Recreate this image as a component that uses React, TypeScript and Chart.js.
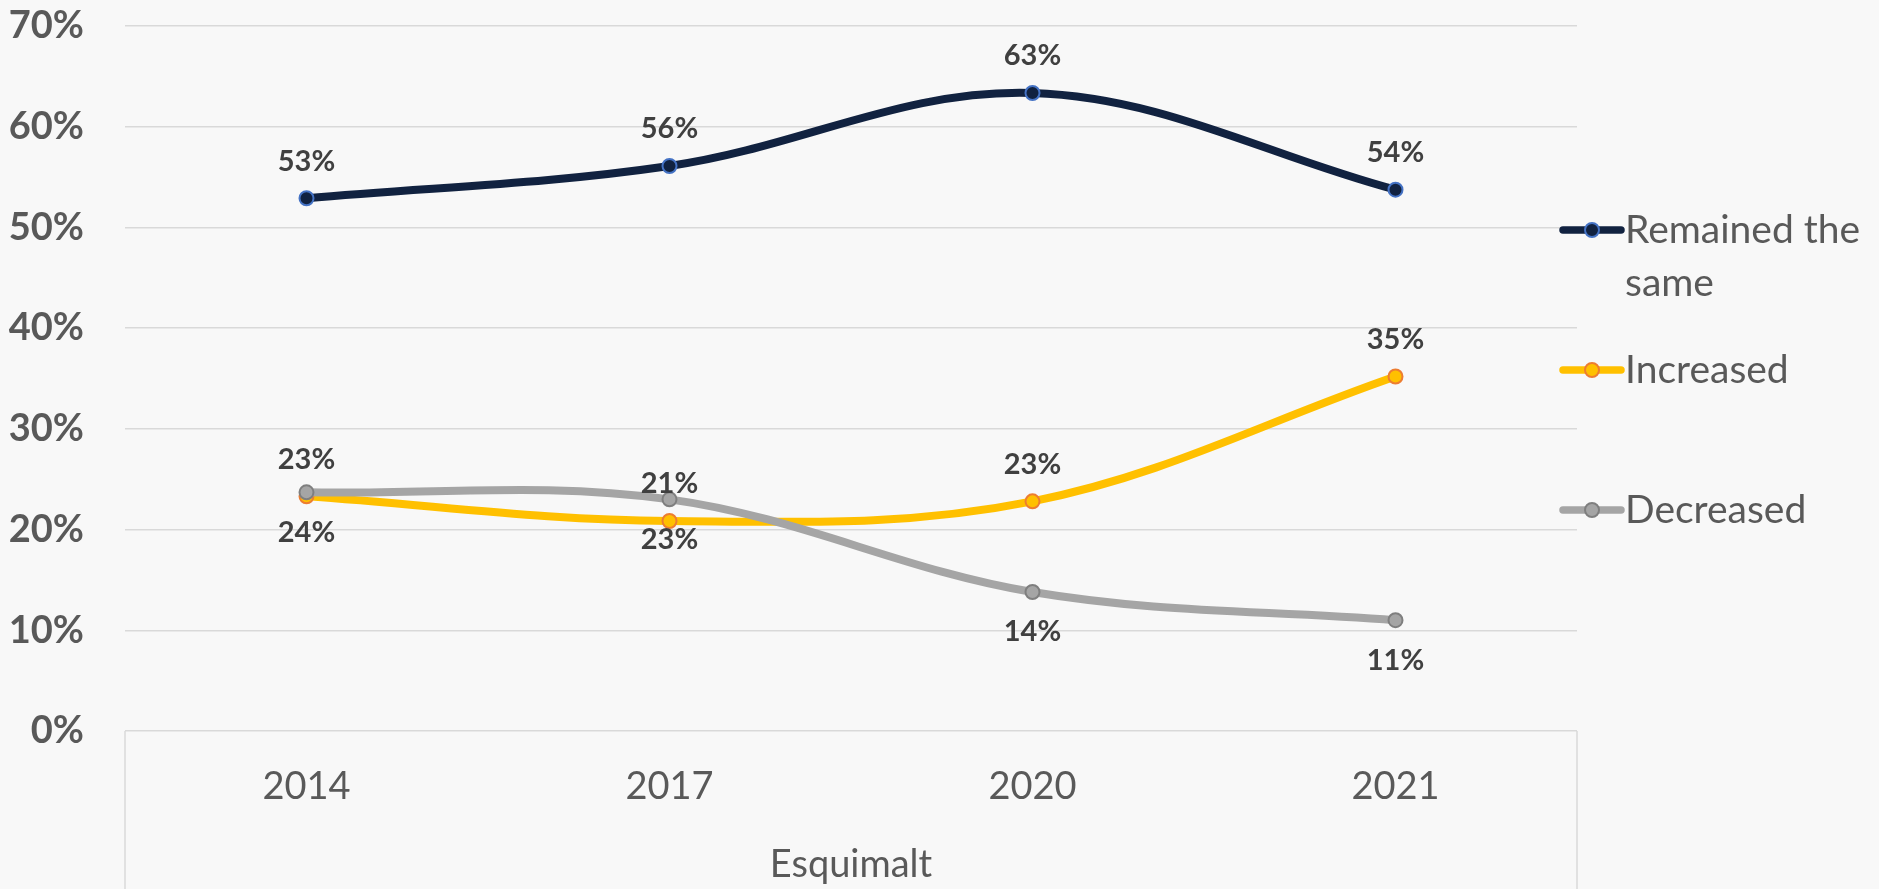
import React, { useEffect, useRef } from "react";
import { Chart, registerables } from "chart.js";

Chart.register(...registerables);

// ---- data ----
const years = ["2014", "2017", "2020", "2021"];
const remainedSame = [52.9, 56.1, 63.35, 53.75];
const increased = [23.3, 20.85, 22.8, 35.2];
const decreased = [23.7, 23.0, 13.8, 11.0];
const seriesNames = ["Remained the same", "Increased", "Decreased"];
const groupLabel = "Esquimalt";
const yMax = 70;
const yStep = 10;

const FONT = "Lato, 'Open Sans', sans-serif";
const W = 1879;
const H = 889;

const dataLabelPlugin = {
  id: "dataLabelPlugin",
  afterDatasetsDraw(chart: any) {
    const ctx = chart.ctx;
    ctx.save();
    ctx.font = `bold 29px ${FONT}`;
    ctx.fillStyle = "#404040";
    ctx.textAlign = "center";
    ctx.textBaseline = "middle";
    chart.data.datasets.forEach((ds: any, i: number) => {
      const meta = chart.getDatasetMeta(i);
      meta.data.forEach((pt: any, j: number) => {
        const v = ds.data[j] as number;
        ctx.fillText(Math.round(v) + "%", pt.x, pt.y + ds.labelOffset);
      });
    });
    ctx.restore();
  },
};

const axisBoxPlugin = {
  id: "axisBoxPlugin",
  afterDraw(chart: any) {
    const ctx = chart.ctx;
    const { left, right, bottom } = chart.chartArea;
    ctx.save();
    ctx.strokeStyle = "#d9d9d9";
    ctx.lineWidth = 1.5;
    ctx.beginPath();
    ctx.moveTo(left, bottom);
    ctx.lineTo(left, chart.height);
    ctx.moveTo(right, bottom);
    ctx.lineTo(right, chart.height);
    ctx.stroke();
    ctx.font = `38px ${FONT}`;
    ctx.fillStyle = "#595959";
    ctx.textAlign = "center";
    ctx.textBaseline = "middle";
    ctx.fillText(groupLabel, (left + right) / 2, bottom + 134);
    ctx.restore();
  },
};

const legendRowY = [230, 370, 510];

const sideLegendPlugin = {
  id: "sideLegendPlugin",
  afterDraw(chart: any) {
    const ctx = chart.ctx;
    const x0 = chart.chartArea.right - 14;
    const x1 = x0 + 58;
    const xm = (x0 + x1) / 2;
    const tx = x1 + 4;
    const maxW = chart.width - tx - 6;
    ctx.save();
    ctx.font = `39px ${FONT}`;
    ctx.textBaseline = "middle";
    ctx.textAlign = "left";
    chart.data.datasets.forEach((ds: any, i: number) => {
      const y = legendRowY[i];
      ctx.lineCap = "round";
      ctx.strokeStyle = ds.borderColor;
      ctx.lineWidth = 7.5;
      ctx.beginPath();
      ctx.moveTo(x0, y);
      ctx.lineTo(x1, y);
      ctx.stroke();
      ctx.beginPath();
      ctx.arc(xm, y, 7, 0, Math.PI * 2);
      ctx.fillStyle = ds.pointBackgroundColor;
      ctx.fill();
      ctx.lineWidth = 2;
      ctx.strokeStyle = ds.pointBorderColor;
      ctx.stroke();
      const words = String(ds.label).split(" ");
      const lines: string[] = [];
      let cur = "";
      words.forEach((w) => {
        const test = cur ? cur + " " + w : w;
        if (ctx.measureText(test).width > maxW && cur) {
          lines.push(cur);
          cur = w;
        } else {
          cur = test;
        }
      });
      if (cur) lines.push(cur);
      ctx.fillStyle = "#595959";
      lines.forEach((ln, k) => ctx.fillText(ln, tx, y + k * 53));
    });
    ctx.restore();
  },
};

export default function App() {
  const ref = useRef<HTMLCanvasElement | null>(null);

  useEffect(() => {
    document.body.style.margin = "0";
    const canvas = ref.current;
    if (!canvas) return;
    const mk = (
      label: string,
      data: number[],
      line: string,
      fill: string,
      border: string,
      order: number,
      labelOffset: number
    ) => ({
      label,
      data,
      borderColor: line,
      backgroundColor: line,
      borderWidth: 8,
      pointRadius: 7,
      pointHoverRadius: 7,
      pointBackgroundColor: fill,
      pointBorderColor: border,
      pointBorderWidth: 2,
      tension: 0.36,
      fill: false,
      order,
      labelOffset,
    });
    const chart = new Chart(canvas, {
      type: "line",
      data: {
        labels: years,
        datasets: [
          mk(seriesNames[0], remainedSame, "#112240", "#112240", "#4472c4", 3, -37),
          mk(seriesNames[1], increased, "#ffc000", "#ffc000", "#ed7d31", 2, -37),
          mk(seriesNames[2], decreased, "#a5a5a5", "#a5a5a5", "#7f7f7f", 1, 40),
        ] as any,
      },
      options: {
        responsive: false,
        animation: false,
        devicePixelRatio: 1,
        layout: { padding: { top: 26, right: W - 1577, left: 0, bottom: 0 } },
        plugins: {
          legend: { display: false },
          tooltip: { enabled: false },
        },
        scales: {
          x: {
            type: "category",
            offset: true,
            grid: { display: false, drawTicks: false },
            border: { display: false },
            ticks: {
              font: { family: FONT, size: 38 },
              color: "#595959",
              padding: 33,
              maxRotation: 0,
              autoSkip: false,
            },
            afterFit: (s: any) => {
              s.height = 158;
            },
          },
          y: {
            min: 0,
            max: yMax,
            grid: { color: "#d9d9d9", lineWidth: 1.5, drawTicks: false },
            border: { display: false },
            ticks: {
              stepSize: yStep,
              font: { family: FONT, size: 38, weight: "bold" },
              color: "#595959",
              padding: 41,
              callback: (v: any) => v + "%",
            },
            afterFit: (s: any) => {
              s.width = 125;
              s.paddingTop = 20;
              s.paddingBottom = 20;
            },
          },
        },
      } as any,
      plugins: [axisBoxPlugin, dataLabelPlugin, sideLegendPlugin],
    });
    return () => chart.destroy();
  }, []);

  return (
    <div
      style={{
        position: "absolute",
        left: 0,
        top: 0,
        width: W,
        height: H,
        background: "#f8f8f8",
      }}
    >
      <canvas ref={ref} width={W} height={H} style={{ width: W, height: H, display: "block" }} />
    </div>
  );
}
